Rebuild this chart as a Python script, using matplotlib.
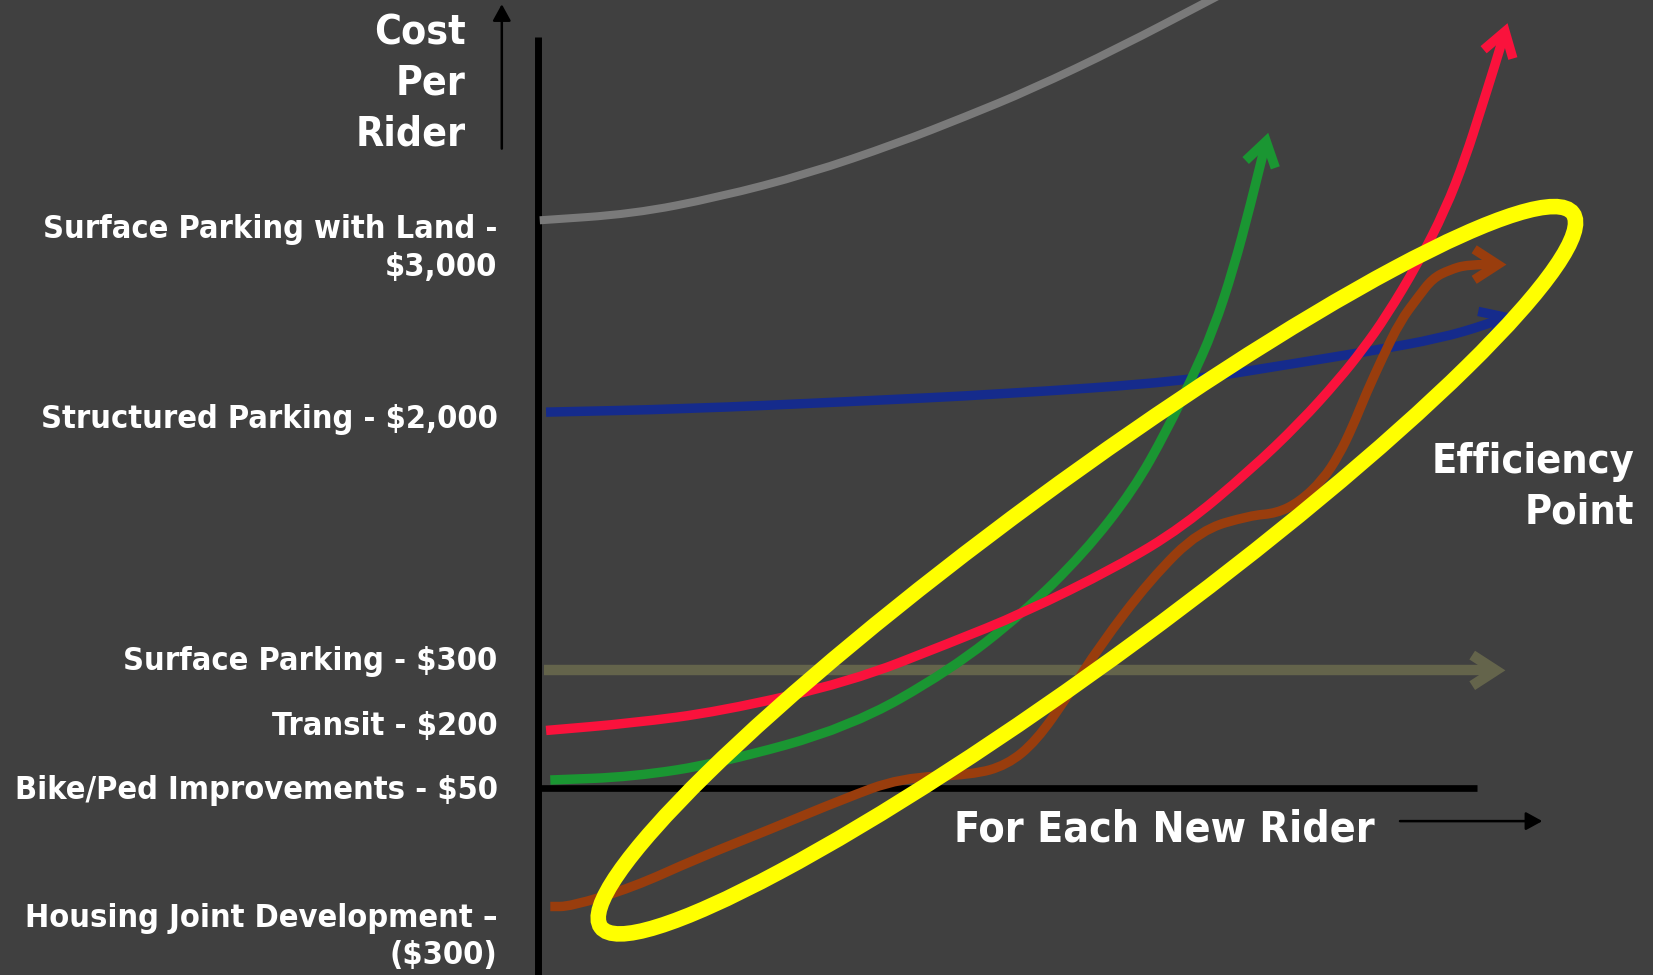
import numpy as np
import matplotlib
matplotlib.use("Agg")
import matplotlib.pyplot as plt
from matplotlib.path import Path
from matplotlib.patches import FancyArrowPatch, PathPatch, Ellipse
from matplotlib import font_manager as fm

# ---------------- data (slide units, 1568 x 925 frame, y downward) ----------------
# Surface Parking with Land - $3,000 (grey)
grey_x = [512, 600, 682, 766, 851, 915, 978, 1062, 1148, 1190]
grey_y = [209, 203, 187, 165, 136, 111, 85, 45, 0, -22]
# Structured Parking - $2,000 (blue)
blue_x = [518, 650, 806, 950, 1122, 1233, 1300, 1366, 1410, 1436]
blue_y = [391, 388, 381, 374, 362, 344, 333, 321, 308, 298]
# Surface Parking - $300 (olive)
olive_x = [516, 1428]
olive_y = [636, 636]
# Transit - $200 (red)
red_x = [518, 600, 683, 806, 901, 970, 1059, 1122, 1186, 1233, 1270, 1293,
         1315, 1345, 1371, 1390, 1405, 1418, 1430]
red_y = [693, 686, 675, 647, 610, 582, 538, 500, 446, 401, 360, 331,
         300, 250, 199, 150, 103, 62, 22]
# Bike/Ped Improvements - $50 (green)
green_x = [522, 600, 683, 806, 901, 970, 1028, 1075, 1107, 1130, 1151, 1170, 1186, 1203]
green_y = [740, 737, 724, 690, 636, 582, 525, 465, 408, 360, 313, 255, 195, 126]
# Housing Joint Development - ($300) (brown)
brown_x = [522, 541, 600, 660, 730, 800, 854, 922, 955, 983, 1013, 1043, 1091, 1138,
           1186, 1211, 1233, 1255, 1270, 1283, 1296, 1312, 1328, 1345, 1359, 1375, 1392, 1429]
brown_y = [860, 860, 842, 815, 787, 758, 738, 735, 726, 703, 660, 613, 550, 503,
           489, 487, 476, 455, 432, 405, 373, 338, 305, 282, 264, 256, 251, 251]
# Efficiency point ellipse: centre, full width, full height, tilt (deg)
eff_center = (1031, 541)
eff_width = 1144
eff_height = 164
eff_angle = 36.3

# Cost labels (right aligned) and their baselines
label_lines = ["Surface Parking with Land -", "$3,000", "Structured Parking - $2,000",
               "Surface Parking - $300", "Transit - $200", "Bike/Ped Improvements - $50",
               "Housing Joint Development \u2013", "($300)"]
label_base = [226, 262, 406, 636, 697, 758, 879, 915]
title_lines = ["Cost", "Per", "Rider"]
title_base = [42, 90, 138]
x_title = "For Each New Rider"
eff_lines = ["Efficiency", "Point"]
eff_base = [449, 497]

# ---------------- styling ----------------
BG = "#404040"
C_GREY = "#7a7a7a"
C_BLUE = "#152b8c"
C_OLIVE = "#64644b"
C_RED = "#fa123c"
C_GREEN = "#1a9632"
C_BROWN = "#993d0d"
C_YELLOW = "#ffff00"

W, H = 1568, 925
fig = plt.figure(figsize=(16.53, 9.75), dpi=100, facecolor=BG)
ax = fig.add_axes([0, 0, 1, 1])
ax.set_facecolor(BG)
ax.set_xlim(0, W)
ax.set_ylim(H, 0)
ax.axis("off")

cond = [f.fname for f in fm.fontManager.ttflist
        if f.fname.endswith("DejaVuSansCondensed-Bold.ttf")]


def fp(size):
    if cond:
        return fm.FontProperties(fname=cond[0], size=size)
    return fm.FontProperties(family="DejaVu Sans", weight="bold", size=size * 0.92)


def smooth_path(xs, ys):
    pts = np.column_stack([xs, ys]).astype(float)
    if len(pts) == 2:
        return Path(pts, [Path.MOVETO, Path.LINETO])
    mids = (pts[:-1] + pts[1:]) / 2
    verts = [pts[0], mids[0]]
    codes = [Path.MOVETO, Path.LINETO]
    for i in range(1, len(pts) - 1):
        verts += [pts[i], mids[i]]
        codes += [Path.CURVE3, Path.CURVE3]
    verts.append(pts[-1])
    codes.append(Path.LINETO)
    return Path(np.array(verts), codes)


LW = 6.8


def curve_arrow(xs, ys, color, lw=LW, z=3):
    p = FancyArrowPatch(path=smooth_path(xs, ys),
                        arrowstyle="->,head_length=17,head_width=11",
                        mutation_scale=1, lw=lw, color=color,
                        joinstyle="miter", capstyle="butt", zorder=z)
    ax.add_patch(p)


# axes lines
ax.plot([510, 510], [35, 930], color="black", lw=5, solid_capstyle="butt", zorder=2)
ax.plot([508, 1401], [748, 748], color="black", lw=4.8, solid_capstyle="butt", zorder=2)

# grey (no head, leaves the frame)
ax.add_patch(PathPatch(smooth_path(grey_x, grey_y), fill=False, ec=C_GREY, lw=5.8,
                       capstyle="butt", zorder=3))
curve_arrow(blue_x, blue_y, C_BLUE, z=3)
curve_arrow(olive_x, olive_y, C_OLIVE, lw=7.5, z=3)
curve_arrow(green_x, green_y, C_GREEN, z=4)
curve_arrow(red_x, red_y, C_RED, z=5)
curve_arrow(brown_x, brown_y, C_BROWN, z=5)

# efficiency ellipse
ax.add_patch(Ellipse(eff_center, eff_width, eff_height, angle=-eff_angle, fill=False,
                     ec=C_YELLOW, lw=11.2, zorder=8))

# small black direction arrows
ax.add_patch(FancyArrowPatch((476, 141), (476, 4), arrowstyle="-|>,head_length=10,head_width=5.5",
                             mutation_scale=1, lw=1.8, color="black", shrinkA=0, shrinkB=0, zorder=6))
ax.add_patch(FancyArrowPatch((1328, 779), (1463, 779), arrowstyle="-|>,head_length=10,head_width=5.5",
                             mutation_scale=1, lw=1.8, color="black", shrinkA=0, shrinkB=0, zorder=6))

# texts
for t, b in zip(title_lines, title_base):
    ax.text(442, b, t, color="white", ha="right", va="baseline", fontproperties=fp(29.3))
for t, b in zip(label_lines, label_base):
    ax.text(472, b, t, color="white", ha="right", va="baseline", fontproperties=fp(23.3))
ax.text(905, 798, x_title, color="white", ha="left", va="baseline", fontproperties=fp(30.7))
for t, b in zip(eff_lines, eff_base):
    ax.text(1550, b, t, color="white", ha="right", va="baseline", fontproperties=fp(29.7))

fig.savefig("out.png", dpi=100, facecolor=BG)
